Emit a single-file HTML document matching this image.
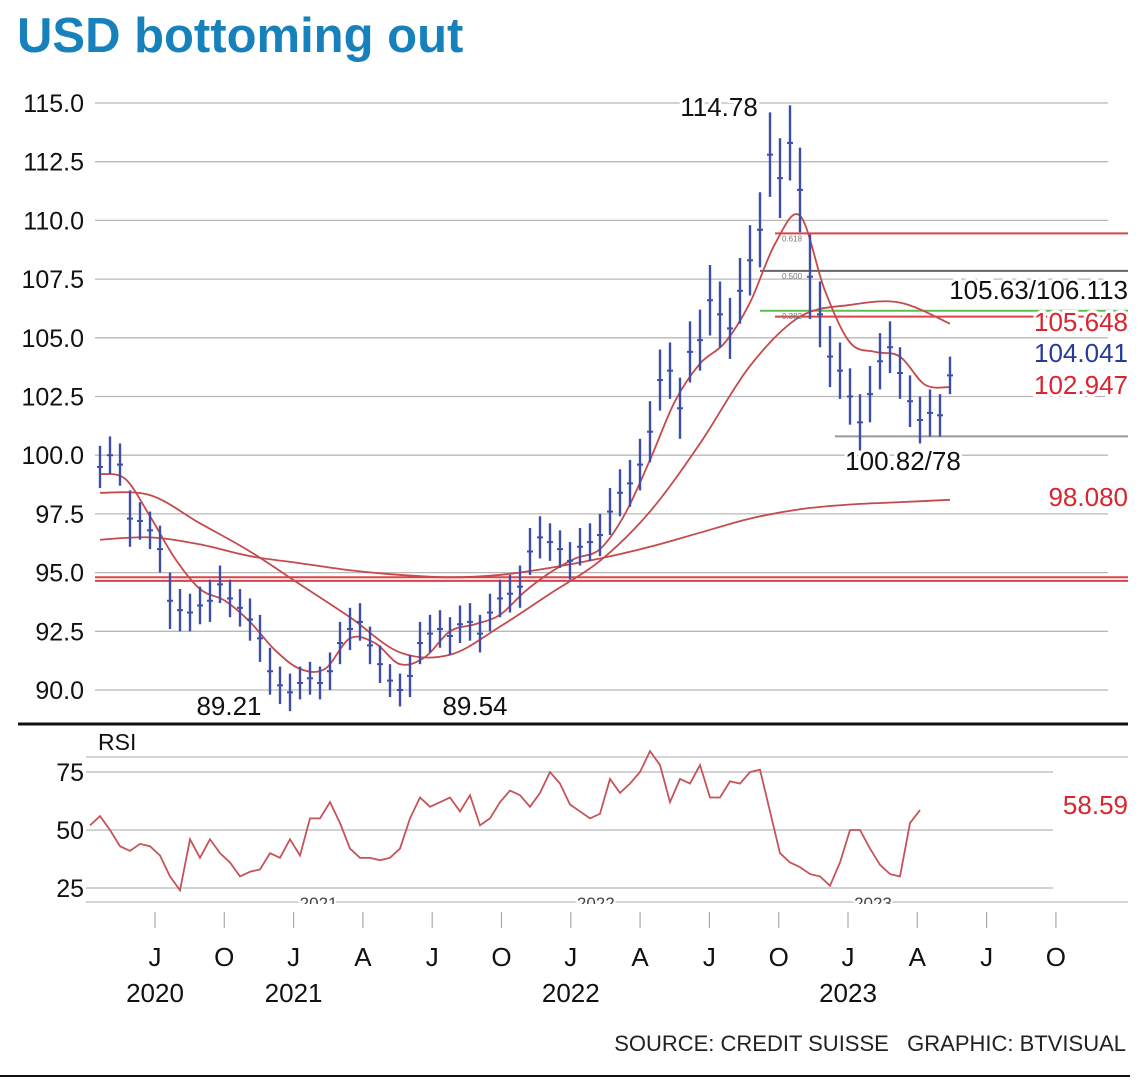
<!DOCTYPE html>
<html><head><meta charset="utf-8"><style>
html,body{margin:0;padding:0;background:#fff;}
svg{display:block;font-family:"Liberation Sans",sans-serif;}
</style></head><body>
<svg id="chart" width="1140" height="1083" viewBox="0 0 1140 1083" xmlns="http://www.w3.org/2000/svg">
<text x="17" y="52" font-size="49" font-weight="bold" fill="#1681bb">USD bottoming out</text>
<g id="g-grid"></g>
<g id="g-levels"></g>
<g id="g-ma"></g>
<g id="g-bars"></g>
<g id="g-rsi"></g>
<g id="g-labels"></g>
<line x1="18" y1="724" x2="1128" y2="724" stroke="#111" stroke-width="3"/>
<text x="98" y="750" font-size="23" fill="#111">RSI</text>
<text x="1126" y="1051" font-size="22" fill="#222" text-anchor="end">SOURCE: CREDIT SUISSE&#160;&#160;&#160;GRAPHIC: BTVISUAL</text>
<line x1="0" y1="1076" x2="1130" y2="1076" stroke="#111" stroke-width="2"/>
</svg>
<script>
const priceTicks = [115.0,112.5,110.0,107.5,105.0,102.5,100.0,97.5,95.0,92.5,90.0];
const rsiTicks = [75,50,25];
const closes = [99.5,100.0,99.6,97.3,97.2,96.8,96.0,93.8,93.4,93.3,93.6,93.8,94.5,93.9,93.5,93.0,92.2,90.8,90.2,89.9,90.3,90.5,90.3,90.8,92.0,92.6,92.9,91.9,91.1,90.4,90.0,90.6,92.0,92.4,92.6,92.3,92.8,92.9,92.4,93.3,93.9,94.1,94.4,95.9,96.5,96.3,96.0,95.5,96.1,96.3,96.6,97.6,98.4,98.8,99.6,101.0,103.2,103.6,102.0,104.4,104.9,106.6,106.0,105.4,107.0,108.3,109.6,112.8,111.8,113.3,111.3,107.6,106.0,104.2,103.6,102.5,101.4,102.6,104.0,104.6,103.5,102.3,101.5,101.8,101.7,103.4];
const spreads = [0.9,0.8,0.9,1.2,0.8,0.8,1.0,1.2,0.9,0.8,0.8,0.9,0.8,0.8,0.8,0.9,1.0,1.0,0.8,0.8,0.7,0.7,0.7,0.8,0.9,0.9,0.8,0.8,0.8,0.7,0.7,0.9,0.9,0.8,0.8,0.8,0.8,0.8,0.8,0.8,0.8,0.8,0.9,1.0,0.9,0.8,0.8,0.8,0.8,0.8,0.9,1.0,1.0,1.0,1.1,1.3,1.3,1.2,1.3,1.3,1.3,1.5,1.4,1.3,1.4,1.5,1.6,1.8,1.7,1.6,1.8,1.8,1.4,1.3,1.2,1.2,1.2,1.2,1.2,1.1,1.1,1.1,1.0,1.0,0.9,0.8];
const maShort = [99.2,99.0,97.4,95.6,94.3,93.8,92.9,91.7,90.9,90.9,92.2,92.0,91.1,91.4,92.5,92.8,93.2,94.2,95.0,95.6,96.0,97.5,99.8,102.3,103.9,104.8,106.5,109.0,110.2,107.0,104.8,104.4,104.2,103.0,102.9];
const maMedium = [98.4,98.3,97.1,95.9,94.5,93.1,91.6,91.5,92.7,94.1,95.5,97.6,100.5,103.8,105.9,106.4,106.5,105.6];
const maLong = [96.4,96.5,96.2,95.7,95.4,95.1,94.9,94.8,94.9,95.2,95.6,96.1,96.7,97.3,97.7,97.9,98.0,98.1];
const rsiValues = [52,56,50,43,41,44,43,39,30,24,46,38,46,40,36,30,32,33,40,38,46,39,55,55,62,53,42,38,38,37,38,42,55,64,60,62,64,58,65,52,55,62,67,65,60,66,75,70,61,58,55,57,72,66,70,75,84,78,62,72,70,78,64,64,71,70,75,76,58,40,36,34,31,30,26,36,50,50,42,35,31,30,53,58.6];
const monthLabels = ["J","O","J","A","J","O","J","A","J","O","J","A","J","O"];
const yearLabels = ["2020","2021","2022","2023"];
const yearQuarter = [0,2,6,10];
const levelValues = [109.45,107.85,106.15,105.9,100.8,94.8,94.65];
const levelColors = ["#d9434a","#666","#5cc04f","#d9434a","#999","#d9434a","#d9434a"];
const levelStarts = [67.5,66,66,67.5,73.5,-0.5,-0.5];

const NS="http://www.w3.org/2000/svg";
function mk(tag,attrs,parent){const e=document.createElementNS(NS,tag);for(const k in attrs)e.setAttribute(k,attrs[k]);parent.appendChild(e);return e;}
function yP(v){return 103+(115-v)*23.48;}
function yR(v){return 830-(v-50)*2.32;}
function xP(i){return 100+i*10;}
function xR(i){return 90+i*10;}
function xQ(q){return 155+q*69.3;}
const gGrid=document.getElementById('g-grid');
const gLev=document.getElementById('g-levels');
const gMa=document.getElementById('g-ma');
const gBars=document.getElementById('g-bars');
const gRsi=document.getElementById('g-rsi');
const gLab=document.getElementById('g-labels');

priceTicks.forEach(v=>{
  const l=mk('line',{x1:95,x2:1108,y1:yP(v),y2:yP(v),stroke:'#b8b8b8','stroke-width':1.3},gGrid);
  
  
  const t=mk('text',{x:84,y:yP(v)+9,'font-size':25,'text-anchor':'end',fill:'#111'},gGrid);
  t.textContent=v.toFixed(1);
  
  
});
rsiTicks.forEach(v=>{
  const l=mk('line',{x1:86,x2:1053,y1:yR(v),y2:yR(v),stroke:'#b8b8b8','stroke-width':1.3},gGrid);
  
  
  const t=mk('text',{x:84,y:yR(v)+9,'font-size':25,'text-anchor':'end',fill:'#111'},gGrid);
  t.textContent=v;
  
  
});
let l0=mk('line',{x1:86,x2:1128,y1:757,y2:757,stroke:'#c8c8c8','stroke-width':1.5},gGrid);


let l1=mk('line',{x1:86,x2:1128,y1:902,y2:902,stroke:'#c6c6d4','stroke-width':1.5},gGrid);


yearLabels.slice(1).forEach((y,i)=>{
  const t=mk('text',{x:xQ(yearQuarter[i+1])+25,y:909,'font-size':17,'text-anchor':'middle',fill:'#444',stroke:'#fff','stroke-width':4,'paint-order':'stroke'},gGrid);
  t.textContent=y;
  
  
});
let cover=mk('rect',{x:80,y:904,width:1060,height:8,fill:'#fff'},gGrid);



levelValues.forEach((v,i)=>{
  const l=mk('line',{x1:xP(levelStarts[i]),x2:1128,y1:yP(v),y2:yP(v),stroke:levelColors[i],'stroke-width':2},gLev);
  
  
});

function smooth(pts){
  let d='M'+pts[0][0]+','+pts[0][1];
  for(let i=0;i<pts.length-1;i++){
    const p0=pts[Math.max(0,i-1)],p1=pts[i],p2=pts[i+1],p3=pts[Math.min(pts.length-1,i+2)];
    const c1=[p1[0]+(p2[0]-p0[0])/6,p1[1]+(p2[1]-p0[1])/6];
    const c2=[p2[0]-(p3[0]-p1[0])/6,p2[1]-(p3[1]-p1[1])/6];
    d+=' C'+c1[0]+','+c1[1]+' '+c2[0]+','+c2[1]+' '+p2[0]+','+p2[1];
  }
  return d;
}
const maShortPath=mk('path',{d:smooth(maShort.map((v,i)=>[100+i*25,yP(v)])),fill:'none',stroke:'#c44a4c','stroke-width':1.8},gMa);


const maMedPath=mk('path',{d:smooth(maMedium.map((v,i)=>[100+i*50,yP(v)])),fill:'none',stroke:'#c44a4c','stroke-width':1.8},gMa);


const maLongPath=mk('path',{d:smooth(maLong.map((v,i)=>[100+i*50,yP(v)])),fill:'none',stroke:'#c44a4c','stroke-width':1.8},gMa);



closes.forEach((c,i)=>{
  const x=xP(i),s=spreads[i];
  const b=mk('line',{x1:x,x2:x,y1:yP(c+s),y2:yP(c-s),stroke:'#3c4ea8','stroke-width':2.4},gBars);
  
  
  const tk=mk('line',{x1:x-3,x2:x+3,y1:yP(c),y2:yP(c),stroke:'#3c4ea8','stroke-width':2},gBars);
  
  
});

const rsiLine=mk('polyline',{points:rsiValues.map((v,i)=>xR(i)+','+yR(v)).join(' '),fill:'none',stroke:'#c5545a','stroke-width':1.8},gRsi);



monthLabels.forEach((m,q)=>{
  const t=mk('text',{x:xQ(q),y:966,'font-size':26,'text-anchor':'middle',fill:'#111'},gLab);
  t.textContent=m;
  
  
  const tk=mk('line',{x1:xQ(q),x2:xQ(q),y1:912,y2:928,stroke:'#aaa','stroke-width':1.2},gLab);
  
  
});
yearLabels.forEach((y,i)=>{
  const t=mk('text',{x:xQ(yearQuarter[i]),y:1002,'font-size':26,'text-anchor':'middle',fill:'#111'},gLab);
  t.textContent=y;
  
  
});

function label(txt,x,y,color,anchor,name){
  const t=mk('text',{x:x,y:y,'font-size':26,'text-anchor':anchor,fill:color,stroke:'#fff','stroke-width':6,'paint-order':'stroke'},gLab);
  t.textContent=txt;
  
  
}
label('114.78',719,116,'#111','middle','peak-label');
label('89.21',229,715,'#111','middle','low-2021-label');
label('89.54',475,715,'#111','middle','low-2021b-label');
label('105.63/106.113',1128,299,'#111','end','fib-level-label');
label('105.648',1128,331,'#d9252f','end','ma-medium-value');
label('104.041',1128,362,'#263c99','end','price-value');
label('102.947',1128,394,'#d9252f','end','ma-short-value');
label('100.82/78',903,470,'#111','middle','recent-low-label');
label('98.080',1128,506,'#d9252f','end','ma-long-value');
label('58.59',1128,814,'#d9252f','end','rsi-value');
[['0.618',109.45],['0.500',107.85],['0.382',106.15]].forEach(f=>{
  const t=mk('text',{x:782,y:yP(f[1])+8,'font-size':8,fill:'#777'},gLab);
  t.textContent=f[0];
  
  
});
</script>
</body></html>
